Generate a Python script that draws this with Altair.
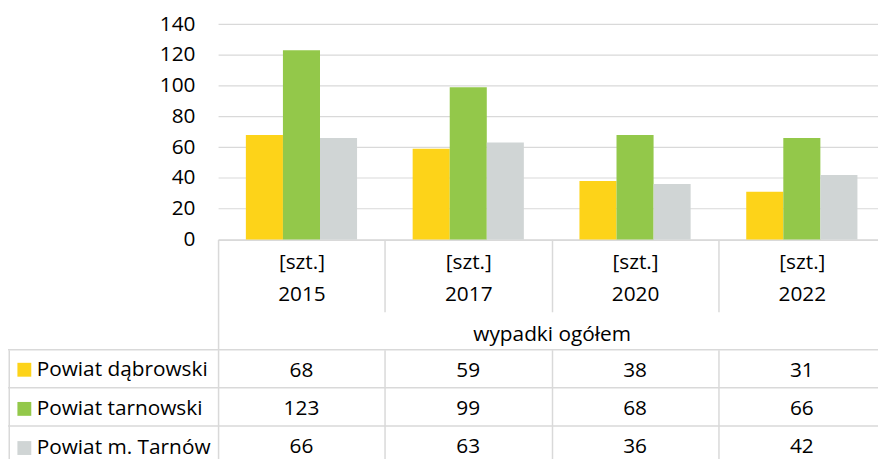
import altair as alt
import pandas as pd

years = ["2015", "2017", "2020", "2022"]
series = ["Powiat dąbrowski", "Powiat tarnowski", "Powiat m. Tarnów"]
dabrowski = [68, 59, 38, 31]
tarnowski = [123, 99, 68, 66]
tarnow_m = [66, 63, 36, 42]
colors = ["#FDD319", "#93C84A", "#D0D5D5"]
y_ticks = [0, 20, 40, 60, 80, 100, 120, 140]
header_unit = "[szt.]"
header_title = "wypadki ogółem"

rows = []
for s, vals in zip(series, [dabrowski, tarnowski, tarnow_m]):
    for yr, v in zip(years, vals):
        rows.append({"year": yr, "series": s, "value": v})
df = pd.DataFrame(rows)
row_df = pd.DataFrame({"series": series})

FONT = "Open Sans"
FS = 21
LINE = "#D9D9D9"

known = " && ".join("datum.value !== '%s'" % y for y in years)
is_year = "indexof([%s], datum.value) >= 0" % ", ".join("'%s'" % y for y in years)

x_scale = alt.Scale(domain=years, range=[212, 885.3], paddingInner=0, paddingOuter=0)
row_scale = alt.Scale(domain=series, range=[342.7, 458.2], paddingInner=0, paddingOuter=0)

bars = alt.Chart(df).mark_bar().encode(
    x=alt.X("year:N", scale=x_scale, sort=years,
            axis=alt.Axis(orient="bottom", offset=-219.5, domainColor=LINE, domainWidth=1.5,
                          tickColor=LINE, tickWidth=1.5, tickBand="extent",
                          tickSize={"condition": {"test": known, "value": 111.2}, "value": 73},
                          labelPadding=-61,
                          labelExpr=is_year + " ? ['" + header_unit + "', datum.label] : ''",
                          labelLineHeight=33, labelBaseline="top", labelAngle=0,
                          labelFontSize=FS, labelColor="#000000", labelFont=FONT,
                          title=header_title, titleFontSize=FS, titleFontWeight="normal",
                          titleColor="#000000", titleFont=FONT, titleY=96, titleBaseline="middle")),
    xOffset=alt.XOffset("series:N", scale=alt.Scale(domain=series, paddingOuter=0.75, paddingInner=0)),
    y=alt.Y("value:Q", scale=alt.Scale(domain=[0, 140], range=[231.5, 14.3], nice=False),
            axis=alt.Axis(orient="left", offset=-212, values=y_ticks, domain=False, ticks=False,
                          tickSize=0, labelPadding=23.3, grid=True, gridColor=LINE, gridWidth=1.2,
                          labelFontSize=FS, labelColor="#000000", labelFont=FONT, title=None)),
    color=alt.Color("series:N", scale=alt.Scale(domain=series, range=colors),
                    legend=alt.Legend(orient="none", legendX=6, legendY=352.5, title=None,
                                      symbolType="square", symbolSize=196, symbolStrokeWidth=0,
                                      labelFontSize=FS, labelFont=FONT, labelColor="#000000",
                                      labelOffset=2, rowPadding=17.5, padding=0, labelLimit=300)),
)

table_text = alt.Chart(df).mark_text(font=FONT, fontSize=FS, color="#000000", baseline="middle", dy=2).encode(
    x=alt.X("year:N", scale=x_scale, sort=years,
            axis=alt.Axis(orient="top", grid=True, gridColor=LINE, gridWidth=1.5, tickBand="extent",
                          labels=False, ticks=False, domain=False, title=None)),
    y=alt.Y("series:N", scale=row_scale, sort=series,
            axis=alt.Axis(orient="left", offset=-0.75, domain=True, domainColor=LINE, domainWidth=1.5,
                          labels=False, ticks=False, grid=False, title=None)),
    text=alt.Text("value:Q"),
)

row_lines = alt.Chart(row_df).mark_rule(color=LINE, strokeWidth=1.5).encode(
    y=alt.Y("series:N", scale=row_scale, sort=series, bandPosition=0, axis=None),
)

chart = alt.layer(bars, row_lines, table_text).resolve_scale(
    y="independent"
).resolve_axis(
    x="independent", y="independent"
).properties(
    width=878, height=451, padding=0, autosize=alt.AutoSizeParams(type="none")
).configure(font=FONT).configure_view(stroke=None)

chart.save("out.html", embed_options={"renderer": "svg", "actions": False})
